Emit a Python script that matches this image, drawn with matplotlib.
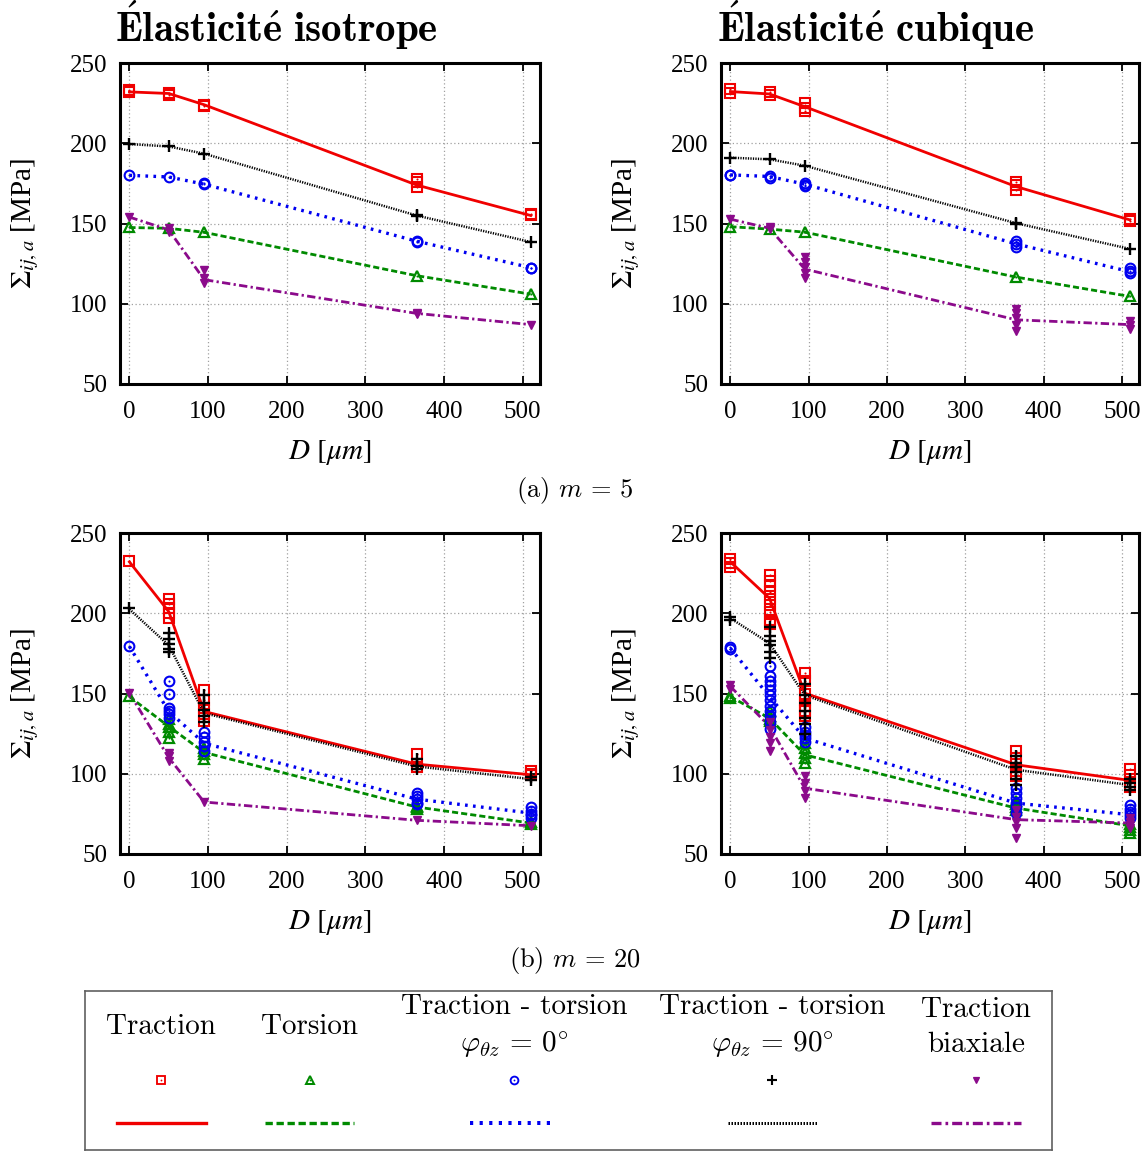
import matplotlib
matplotlib.use("Agg")
import matplotlib.pyplot as plt

plt.rcParams['font.family'] = ['cmr10', 'DejaVu Serif']
plt.rcParams['mathtext.fontset'] = 'cm'
plt.rcParams['axes.formatter.use_mathtext'] = False
plt.rcParams['axes.unicode_minus'] = False

# ---------------- data ----------------
D = [0, 50, 95, 365, 510]
x_ticks = [0, 100, 200, 300, 400, 500]
y_ticks = [50, 100, 150, 200, 250]
series_names = ["Traction", "Torsion", "Traction - torsion\n$\\varphi_{\\theta z}\\,=\\,0^{\\circ}$",
                "Traction - torsion\n$\\varphi_{\\theta z}\\,=\\,90^{\\circ}$", "Traction\nbiaxiale"]
titles = [r"$\mathbf{\acute{E}lasticit\acute{e}\ isotrope}$", r"$\mathbf{\acute{E}lasticit\acute{e}\ cubique}$"]
captions = ["(a) $m\\,=\\,5$", "(b) $m\\,=\\,20$"]

# (a) m=5, isotropic
a_tr_mean = [232, 231, 224, 174, 155]
a_tr_pts = [[232, 233], [231, 230], [224, 223], [178, 176, 173], [156, 155]]
a_tor_mean = [147.5, 147, 144.5, 117.5, 106]
a_tor_pts = [[148], [147], [144.5], [117.5], [106]]
a_tt0_mean = [180, 179, 174.5, 139, 122.5]
a_tt0_pts = [[180], [179], [174.5, 175], [139, 138.5], [122.5, 122]]
a_tt90_mean = [199.5, 198, 193.5, 155, 138.5]
a_tt90_pts = [[199.5], [198], [193.5], [155.5, 154.5], [138.5]]
a_bi_mean = [154, 146, 115, 94, 87]
a_bi_pts = [[154], [147, 145], [121, 116, 113], [94, 93.5], [87]]

# (a) m=5, cubic
b_tr_mean = [232.2, 230.7, 222.8, 173, 152.3]
b_tr_pts = [[234, 231], [232, 230], [225, 222, 220], [176, 174, 171], [153, 151.5]]
b_tor_mean = [148, 146.5, 144.6, 116.6, 104.6]
b_tor_pts = [[148], [146.5], [144.6], [116.6], [104.6]]
b_tt0_mean = [180.3, 179.3, 174.5, 137.3, 120]
b_tt0_pts = [[180.5, 180], [179.5, 178.5], [175.5, 174, 173.5], [139, 137, 135.5], [122, 120.5, 119]]
b_tt90_mean = [191, 190, 186, 150.2, 134.2]
b_tt90_pts = [[191], [190], [186], [150.5, 149.5], [134.2]]
b_bi_mean = [152.7, 147, 121.6, 90, 87]
b_bi_pts = [[153], [148, 146.5], [129, 126, 123, 119, 116], [97, 94, 91, 87, 83], [89, 87, 84]]

# (b) m=20, isotropic
c_tr_mean = [232, 201, 138.8, 106, 99.4]
c_tr_pts = [[232.5], [209, 206, 203, 200, 197], [152, 146, 141, 137, 133], [112, 106, 104], [102, 100, 99]]
c_tor_mean = [148, 129.5, 113.3, 79.3, 69.3]
c_tor_pts = [[148.5], [134, 131, 129, 126, 122], [116, 114, 112, 109], [80, 79, 78], [70, 69]]
c_tt0_mean = [179.3, 138.8, 119, 84.2, 75.5]
c_tt0_pts = [[179.5], [158, 150, 141, 139, 137, 135], [126, 123, 120, 117, 114], [88, 86, 84, 82, 81], [79, 77, 75, 74, 72.5]]
c_tt90_mean = [202.5, 180, 137.8, 104.6, 96.7]
c_tt90_pts = [[203], [188, 184, 181, 178, 176], [149, 144, 140, 136, 132], [109, 105, 103], [98, 96]]
c_bi_mean = [150.2, 110, 82.4, 71, 67.6]
c_bi_pts = [[150.5], [113, 111, 108], [82.5], [71], [67.5]]

# (b) m=20, cubic
d_tr_mean = [232, 209.3, 150.2, 105.6, 95.9]
d_tr_pts = [[234, 231.5, 229], [224, 220, 217, 213, 209, 205, 201, 196, 193],
            [163, 158, 150, 146, 142, 139, 136], [114, 110, 106, 102, 98.5], [103, 99, 95, 92]]
d_tor_mean = [148, 134.6, 111.8, 78.6, 67.6]
d_tor_pts = [[148.5, 147.5], [139, 136, 134, 133], [119, 116, 113, 110, 107], [83, 81, 79, 77.5], [69, 67, 65, 63]]
d_tt0_mean = [178.2, 148, 122.2, 81.7, 74.5]
d_tt0_pts = [[179, 177.5], [167, 161, 158, 155, 152, 149, 146, 142, 139, 136, 132, 128],
             [129, 126, 124, 122, 120], [91, 88, 85, 82, 79, 75.5], [80.5, 78, 76, 74, 72.5]]
d_tt90_mean = [196.9, 181.3, 149, 102.5, 93]
d_tt90_pts = [[197.5, 196], [191.5, 186, 183, 180, 176, 172], [156, 149, 144, 139, 135, 131, 125],
              [111, 107, 104, 101, 97, 93], [97, 94, 92, 90]]
d_bi_mean = [154.4, 129.5, 91, 71.4, 69.3]
d_bi_pts = [[155, 153], [132, 127, 123, 119, 114], [98.5, 94, 89, 85], [77.6, 73, 70, 66, 60], [72.4, 70, 68, 66]]

# ---------------- styles ----------------
RED, GREEN, BLUE, BLACK, PURPLE = '#f00000', '#008a00', '#0000f0', '#000000', '#8b0a8b'
styles = [
    dict(color=RED, ls='-', lw=2.0, marker='s', mfc='none', ms=7, mew=1.5, dot=True),
    dict(color=GREEN, ls=(0, (2.2, 1.1)), lw=2.0, marker='^', mfc='none', ms=7, mew=1.6, dot=True),
    dict(color=BLUE, ls=(0, (0.8, 1.6)), lw=2.4, marker='o', mfc='none', ms=7, mew=1.5, dot=True),
    dict(color=BLACK, ls=(0, (0.5, 0.5)), lw=1.8, marker='+', mfc='none', ms=8.5, mew=1.7, dot=False),
    dict(color=PURPLE, ls=(0, (3.0, 1.2, 0.8, 1.2)), lw=2.0, marker='v', mfc=PURPLE, ms=5.5, mew=1.0, dot=False),
]

panels = [
    ([a_tr_mean, a_tor_mean, a_tt0_mean, a_tt90_mean, a_bi_mean],
     [a_tr_pts, a_tor_pts, a_tt0_pts, a_tt90_pts, a_bi_pts]),
    ([b_tr_mean, b_tor_mean, b_tt0_mean, b_tt90_mean, b_bi_mean],
     [b_tr_pts, b_tor_pts, b_tt0_pts, b_tt90_pts, b_bi_pts]),
    ([c_tr_mean, c_tor_mean, c_tt0_mean, c_tt90_mean, c_bi_mean],
     [c_tr_pts, c_tor_pts, c_tt0_pts, c_tt90_pts, c_bi_pts]),
    ([d_tr_mean, d_tor_mean, d_tt0_mean, d_tt90_mean, d_bi_mean],
     [d_tr_pts, d_tor_pts, d_tt0_pts, d_tt90_pts, d_bi_pts]),
]

W, H = 1147, 1151
fig = plt.figure(figsize=(W / 100, H / 100), dpi=100)


def px_axes(left, top, right, bottom):
    return fig.add_axes([left / W, 1 - bottom / H, (right - left) / W, (bottom - top) / H])


boxes = [(120, 63, 540, 384), (721, 63, 1139, 384), (120, 533, 540, 854), (721, 533, 1139, 854)]
title_pos = [(276, 25), (876, 25)]
draw_order = [4, 1, 2, 3, 0]
TIMES = ['Liberation Serif', 'DejaVu Serif']

for k, (box, (means, pts)) in enumerate(zip(boxes, panels)):
    ax = px_axes(*box)
    for s in draw_order:
        st = styles[s]
        ax.plot(D, means[s], color=st['color'], ls=st['ls'], lw=st['lw'], zorder=2 + s * 0.1)
        for xi, plist in zip(D, pts[s]):
            ax.plot([xi] * len(plist), plist, ls='none', marker=st['marker'], mfc=st['mfc'],
                    mec=st['color'], ms=st['ms'], mew=st['mew'], zorder=3 + s * 0.1)
            if st['dot']:
                ax.plot([xi] * len(plist), plist, ls='none', marker='o', mfc=st['color'],
                        mec=st['color'], ms=1.5, mew=0, zorder=3 + s * 0.1)
    ax.set_xlim(-12, 522)
    ax.set_ylim(50, 250)
    ax.set_xticks(x_ticks)
    ax.set_yticks(y_ticks)
    ax.grid(True, color='#a0a0a0', ls=(0, (1, 2)), lw=0.9)
    ax.tick_params(axis='x', pad=12)
    ax.tick_params(axis='y', pad=9)
    ax.tick_params(direction='in', length=6, width=1.3, top=True, right=True, labelsize=18)
    for lab in ax.get_xticklabels() + ax.get_yticklabels():
        lab.set_family(TIMES)
    for sp in ax.spines.values():
        sp.set_linewidth(2.2)
    ax.set_xlabel(r'$D$ $[\mu m]$', fontsize=21, labelpad=11, family=TIMES, math_fontfamily='stix')
    ax.set_ylabel(r'$\Sigma_{ij,a}$ [MPa]', fontsize=21, labelpad=21, family=TIMES, math_fontfamily='stix')
    if k < 2:
        fig.text(title_pos[k][0] / W, 1 - title_pos[k][1] / H, titles[k], ha='center', va='center',
                 fontsize=29.5)

fig.text(575 / W, 1 - 491 / H, captions[0], ha='center', va='center', fontsize=19)
fig.text(575 / W, 1 - 961 / H, captions[1], ha='center', va='center', fontsize=19)

# ---------------- legend box ----------------
lg = px_axes(85, 991, 1052, 1150)
lg.set_xlim(85, 1052)
lg.set_ylim(1150, 991)
lg.set_xticks([])
lg.set_yticks([])
for sp in lg.spines.values():
    sp.set_linewidth(1.2)
    sp.set_color('#606060')

col_x = [161, 310, 514, 772, 976]
seg_x = [(117, 206), (265, 354), (470, 556), (728, 817), (931, 1021)]
for s in range(5):
    st = styles[s]
    lg.text(col_x[s], 1027, series_names[s], ha='center', va='center', fontsize=21,
            linespacing=1.42)
    lg.plot([col_x[s]], [1080], ls='none', marker=st['marker'], mfc=st['mfc'], mec=st['color'],
            ms=st['ms'] * 0.8, mew=st['mew'] * 0.9)
    if st['dot']:
        lg.plot([col_x[s]], [1080], ls='none', marker='o', mfc=st['color'], mec=st['color'], ms=1.3, mew=0)
    lg.plot(list(seg_x[s]), [1123, 1123], color=st['color'], ls=st['ls'], lw=st['lw'] * 1.2)

fig.savefig('out.png', dpi=100)
